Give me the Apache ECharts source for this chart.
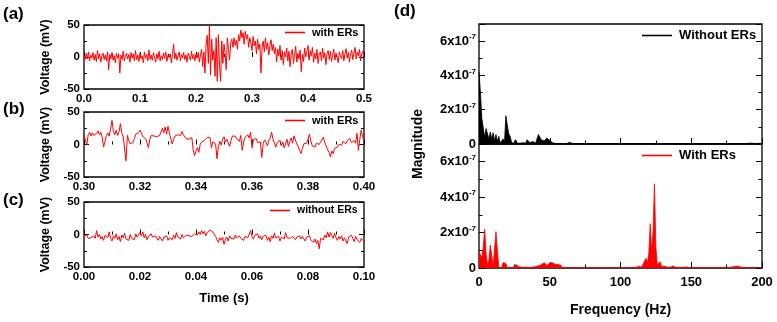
<!DOCTYPE html>
<html><head><meta charset="utf-8">
<script src="https://cdn.jsdelivr.net/npm/echarts@6/dist/echarts.min.js"></script>
<style>html,body{margin:0;padding:0;background:#fff}#c{width:777px;height:322px}</style>
</head><body><div id="c"></div>
<script>
// ---- Panel (a): 0–0.5 s, with ERs (mV), step 0.002 s
const aStart = 0, aStep = 0.002;
const aVolt = [
2,-4,6,-3,8,-6,3,-2,7,-5,
4,-7,10,-3,5,-8,2,6,-4,3,
-6,8,-20,4,-3,7,-5,2,-9,6,
-2,5,-25,3,-4,9,-6,1,6,-3,
4,-8,7,-2,5,-6,10,-4,3,-7,
6,-3,2,-9,8,-2,4,-6,11,-4,
3,-5,7,-1,-8,5,-3,9,-6,2,
-4,6,-2,8,-7,3,-1,5,-9,4,
20,-3,6,-5,2,8,-6,4,-2,7,
-4,3,-8,6,1,-5,9,-3,4,-6,
5,-2,7,-8,3,12,-15,8,-25,20,
34,-10,50,-28,28,-5,10,-30,30,-38,
35,-15,-38,25,-10,20,5,-20,30,12,
-5,22,28,15,30,18,26,12,35,25,
42,30,38,20,40,28,35,15,30,22,
10,32,18,25,5,28,12,20,-25,15,
25,8,30,12,22,3,18,27,10,20,
5,15,-8,12,2,18,-5,10,-12,8,
0,14,-6,9,-15,5,12,-10,3,17,
-8,6,-3,11,-23,4,-7,14,0,9,
18,-5,10,2,15,-8,6,-3,12,-10,
4,8,-6,14,-2,7,-12,5,10,-4,
9,-7,3,12,-5,6,0,-9,8,2,
-3,10,-6,5,13,-2,7,-8,4,11,
-4,6,15,-3,8,1,12,-6,5,9,
3];
// ---- Panel (b): 0.30–0.40 s, with ERs (mV), step 0.0005 s
const bStart = 0.30, bStep = 0.0005;
const bVolt = [
16,6,-1,15,19,13,18,14,12,17,
21,15,19,11,-4,5,14,18,13,24,
37,20,15,22,14,19,32,18,12,14,
-25,14,6,1,0,3,9,16,13,18,
22,18,12,15,9,3,-5,8,14,11,
13,10,12,11,14,12,25,18,27,16,
28,18,9,1,8,13,10,15,12,14,
20,15,16,9,7,8,6,11,-8,-17,
-10,-5,-12,0,4,7,6,9,11,8,
11,-5,4,6,1,-22,-3,5,-1,8,
12,4,8,11,-3,6,13,10,13,9,
7,5,14,-9,4,11,8,15,10,19,
-5,8,5,9,3,6,4,-20,2,7,
3,-2,6,10,19,8,2,-4,3,0,
6,-2,4,-5,1,8,-3,5,10,2,
13,7,1,-3,-9,-14,-6,1,4,2,
8,16,6,-2,0,-4,2,5,0,4,
6,11,3,-2,-8,-12,-19,-10,-14,-6,
-9,-4,0,2,-1,5,3,1,6,4,
9,3,1,6,2,17,-9,8,22,12,
6];
// ---- Panel (c): 0–0.10 s, without ERs (mV), step 0.0005 s
const cStart = 0, cStep = 0.0005;
const cVolt = [
-2,-4,-1,-6,-3,-5,-8,-2,-6,6,-4,0,-7,-3,-9,-1,2,-5,4,-6,
-10,-2,-6,1,-8,-3,-11,-1,-5,2,-7,-4,-9,0,-6,-3,-8,1,-4,-7,
3,-2,4,-5,0,-8,-3,-6,1,-4,-7,-2,-5,-9,-3,-6,-10,-4,-7,-2,
-9,-5,-3,-8,-1,-6,3,-4,-2,-7,0,-5,-3,-1,-4,-2,0,-3,-1,1,
2,-1,4,0,6,1,5,-2,3,2,7,9,4,6,-3,-8,-12,-5,-9,-4,
-15,-8,-4,-10,-2,-6,-3,-7,-1,-5,-8,-2,-6,-4,-9,-3,0,-5,-2,6,
-3,-7,-1,-4,1,-6,-2,-8,-3,-5,-1,-9,-4,-11,-2,-6,2,-5,-8,-3,
-10,-4,-1,-7,3,-5,-2,-6,-9,-3,-1,-8,-4,-6,-2,-7,-3,-5,-10,-4,
-6,-2,-8,-5,-12,-7,-14,-9,-22,-6,-3,-8,-1,-5,4,-4,3,-2,-6,2,
-5,-9,-3,-7,-2,-10,-5,-8,-14,-4,-7,-1,-6,-11,-3,-8,-5,-12,-6,-9,-11];
// ---- Panel (d): magnitude spectra, 0–200 Hz, step 1 Hz, values in units of 1e-7
const fStart = 0, fStep = 1;
const magWithout = [
4.2,3.0,1.5,1.4,0.4,0.9,1.0,0.3,0.7,0.3,
0.65,0.2,0.55,0.15,0.45,0.05,0.02,0.3,0.1,1.65,
1.1,0.6,0.45,0.1,0.2,0.02,0.25,0.05,0.03,0.04,
0.15,0.08,0.15,0.05,0.25,0.2,0.08,0.06,0.15,0.04,
0.05,0.1,0.55,0.45,0.25,0.2,0.18,0.12,0.35,0.25,
0.2,0.18,0.08,0.04,0.03,0.02,0.03,0.02,0.02,0.03,
0.02,0.02,0.03,0.05,0.1,0.08,0.03,0.05,0.02,0.02,
0.02,0.03,0.02,0.02,0.03,0.02,0.02,0.01,0.02,0.02,
0.01,0.02,0.02,0.01,0.02,0.01,0.02,0.01,0.01,0.02,
0.01,0.02,0.01,0.02,0.01,0.01,0.02,0.01,0.02,0.01,
0.02,0.01,0.01,0.02,0.01,0.02,0.01,0.01,0.02,0.01,
0.01,0.02,0.01,0.01,0.02,0.01,0.02,0.01,0.01,0.02,
0.01,0.02,0.01,0.02,0.01,0.01,0.02,0.01,0.02,0.01,
0.01,0.02,0.01,0.01,0.02,0.01,0.02,0.01,0.01,0.02,
0.01,0.01,0.02,0.01,0.02,0.01,0.01,0.02,0.01,0.01,
0.02,0.01,0.01,0.02,0.01,0.02,0.01,0.01,0.02,0.01,
0.01,0.02,0.01,0.02,0.01,0.01,0.02,0.01,0.02,0.01,
0.01,0.02,0.01,0.01,0.02,0.01,0.02,0.01,0.01,0.02,
0.01,0.02,0.01,0.01,0.02,0.01,0.02,0.03,0.02,0.03,
0.04,0.03,0.05,0.03,0.04,0.06,0.03,0.05,0.04,0.03,
0.02];
const magWith = [
0.9,1.0,0.6,1.2,2.2,0.8,0.2,0.45,1.3,0.7,
0.1,0.05,2.05,1.0,0.02,0.01,0.02,0.3,0.35,0.25,
0.02,0.02,0.03,0.02,0.02,0.03,0.2,0.18,0.08,0.05,
0.04,0.07,0.05,0.03,0.03,0.03,0.04,0.03,0.05,0.05,
0.08,0.1,0.12,0.15,0.18,0.22,0.3,0.35,0.15,0.2,
0.28,0.35,0.3,0.25,0.2,0.18,0.2,0.18,0.15,0.01,
0.02,0.01,0.02,0.01,0.02,0.01,0.01,0.02,0.01,0.02,
0.01,0.02,0.01,0.01,0.02,0.01,0.02,0.01,0.01,0.02,
0.01,0.02,0.01,0.02,0.01,0.01,0.02,0.01,0.02,0.01,
0.01,0.02,0.01,0.01,0.02,0.01,0.02,0.01,0.01,0.02,
0.01,0.02,0.01,0.02,0.01,0.02,0.02,0.03,0.02,0.03,
0.03,0.04,0.06,0.1,0.12,0.05,0.03,0.4,0.55,0.3,
0.8,2.5,1.0,2.0,4.75,1.2,0.2,0.1,0.35,0.1,
0.05,0.1,0.2,0.05,0.05,0.03,0.08,0.12,0.05,0.04,
0.05,0.04,0.05,0.03,0.04,0.05,0.03,0.05,0.03,0.02,
0.03,0.02,0.03,0.04,0.03,0.02,0.03,0.02,0.02,0.03,
0.02,0.02,0.03,0.02,0.02,0.03,0.02,0.02,0.02,0.02,
0.02,0.03,0.02,0.02,0.03,0.02,0.02,0.03,0.04,0.06,
0.08,0.1,0.12,0.1,0.08,0.05,0.04,0.03,0.03,0.02,
0.03,0.02,0.03,0.04,0.03,0.02,0.03,0.02,0.03,0.02,
0.02];
// tick labels
const voltTicks = [-50, 0, 50];
const magTicks = [0, 2, 4, 6];

const FF = 'Arial, "Liberation Sans", Helvetica, sans-serif';
const RED = '#ff0000';
const toPairs = (start, step, arr) => arr.map((v, i) => [+(start + i * step).toFixed(6), v]);

const chart = echarts.init(document.getElementById('c'), null, {renderer: 'canvas'});

const gridBox = (l, t, w, h) => ({left: l, top: t, width: w, height: h, show: true, borderColor: '#000', borderWidth: 1.3, backgroundColor: 'transparent', containLabel: false});
const grids = [
  gridBox(84, 25, 280, 64),
  gridBox(84, 112, 280, 65),
  gridBox(84, 202, 280, 65),
  gridBox(479, 24, 283, 120),
  gridBox(479, 144, 283, 124)
];

const lblStyle = {color: '#000', fontFamily: FF, fontWeight: 'bold', fontSize: 11.5};
function timeX(gi, min, max, interval, dec, extra) {
  return Object.assign({
    type: 'value', gridIndex: gi, min, max, interval,
    axisLine: {show: false},
    axisTick: {show: true, inside: true, length: 5, lineStyle: {color: '#000', width: 1}},
    minorTick: {show: true, splitNumber: 2, length: 3, lineStyle: {color: '#000', width: 1}},
    splitLine: {show: false},
    axisLabel: Object.assign({margin: 4, formatter: v => v.toFixed(dec)}, lblStyle)
  }, extra || {});
}
function voltY(gi, pos, labels) {
  return {
    type: 'value', gridIndex: gi, position: pos, min: -50, max: 50, interval: 50,
    axisLine: {show: false},
    axisTick: {show: true, inside: true, length: 5, lineStyle: {color: '#000', width: 1}},
    minorTick: {show: true, splitNumber: 2, length: 3, lineStyle: {color: '#000', width: 1}},
    splitLine: {show: false},
    axisLabel: Object.assign({show: labels, margin: 4, formatter: v => voltTicks.includes(v) ? String(v) : ''}, lblStyle),
    name: labels ? 'Voltage (mV)' : '', nameLocation: 'middle', nameGap: 32,
    nameTextStyle: {color: '#000', fontFamily: FF, fontWeight: 'bold', fontSize: 12.5}
  };
}
function magY(gi, pos, major) {
  return {
    type: 'value', gridIndex: gi, position: pos, min: 0, max: 7, interval: major ? 2 : 1,
    axisLine: {show: false},
    axisTick: {show: true, inside: true, length: major ? 6 : 3.5, lineStyle: {color: '#000', width: 1}},
    splitLine: {show: false},
    axisLabel: {
      show: major && pos === 'left', margin: 3,
      formatter: v => v === 0 ? '{m|0}' : (magTicks.includes(v) ? '{m|' + v + 'x10}{s|-7}' : ''),
      rich: {
        m: {fontFamily: FF, fontWeight: 'bold', fontSize: 13, color: '#000', lineHeight: 16},
        s: {fontFamily: FF, fontWeight: 'bold', fontSize: 8, color: '#000', verticalAlign: 'top', lineHeight: 16, padding: [0, 0, 8, 0]}
      }
    }
  };
}
const freqX = (gi, labels) => ({
  type: 'value', gridIndex: gi, min: 0, max: 200, interval: 50,
  axisLine: {show: false},
  axisTick: {show: true, inside: true, length: 6, lineStyle: {color: '#000', width: 1}},
  minorTick: {show: true, splitNumber: 2, length: 3.5, lineStyle: {color: '#000', width: 1}},
  splitLine: {show: false},
  axisLabel: {show: labels, margin: 8, color: '#000', fontFamily: FF, fontWeight: 'bold', fontSize: 13},
  name: labels ? 'Frequency (Hz)' : '', nameLocation: 'middle', nameGap: 35,
  nameTextStyle: {color: '#000', fontFamily: FF, fontWeight: 'bold', fontSize: 14}
});

const xAxes = [
  timeX(0, 0, 0.5, 0.1, 1),
  timeX(1, 0.30, 0.40, 0.02, 2),
  timeX(2, 0, 0.10, 0.02, 2, {name: 'Time (s)', nameLocation: 'middle', nameGap: 25,
    nameTextStyle: {color: '#000', fontFamily: FF, fontWeight: 'bold', fontSize: 13}}),
  freqX(3, false),
  freqX(4, true)
];
const yAxes = [
  voltY(0, 'left', true), voltY(0, 'right', false),
  voltY(1, 'left', true), voltY(1, 'right', false),
  voltY(2, 'left', true), voltY(2, 'right', false),
  magY(3, 'left', true), magY(3, 'left', false), magY(3, 'right', true), magY(3, 'right', false),
  magY(4, 'left', true), magY(4, 'left', false), magY(4, 'right', true), magY(4, 'right', false)
];

const timeSeries = (name, xi, yi, data) => ({
  type: 'line', name, xAxisIndex: xi, yAxisIndex: yi, data,
  showSymbol: false, symbol: 'none', animation: false,
  lineStyle: {color: RED, width: 1}, itemStyle: {color: RED}
});
const specSeries = (name, xi, yi, data, color) => ({
  type: 'line', name, xAxisIndex: xi, yAxisIndex: yi, data,
  showSymbol: false, symbol: 'none', animation: false,
  lineStyle: {color, width: 0.8}, itemStyle: {color},
  areaStyle: {color, opacity: 1}
});

const series = [
  timeSeries('with ERs', 0, 0, toPairs(aStart, aStep, aVolt)),
  timeSeries('with ERs ', 1, 2, toPairs(bStart, bStep, bVolt)),
  timeSeries('without ERs', 2, 4, toPairs(cStart, cStep, cVolt)),
  specSeries('Without ERs', 3, 6, toPairs(fStart, fStep, magWithout), '#000'),
  specSeries('With ERs', 4, 10, toPairs(fStart, fStep, magWith), RED)
];

const legendOf = (name, left, top, w, fs) => ({
  data: [{name, icon: 'rect'}], left, top, itemWidth: w, itemHeight: 1.6, itemGap: 0,
  selectedMode: false, padding: 0,
  textStyle: {color: '#000', fontFamily: FF, fontWeight: 'bold', fontSize: fs, padding: [0, 0, 0, 2]}
});

const option = {
  animation: false,
  grid: grids,
  xAxis: xAxes,
  yAxis: yAxes,
  series,
  legend: [
    legendOf('with ERs', 285, 27, 20, 11),
    legendOf('with ERs ', 285, 115, 20, 11),
    legendOf('without ERs', 270, 205, 20, 10.5),
    legendOf('Without ERs', 642, 29, 30, 13),
    legendOf('With ERs', 642, 149, 30, 13)
  ],
  graphic: [
    {type: 'text', left: 3, top: 6, style: {text: '(a)', font: 'bold 17px ' + FF, fill: '#000'}},
    {type: 'text', left: 3, top: 101, style: {text: '(b)', font: 'bold 17px ' + FF, fill: '#000'}},
    {type: 'text', left: 3, top: 192, style: {text: '(c)', font: 'bold 17px ' + FF, fill: '#000'}},
    {type: 'text', left: 394, top: 3, style: {text: '(d)', font: 'bold 17px ' + FF, fill: '#000'}},
    {type: 'text', x: 418, y: 144, rotation: Math.PI / 2,
      style: {text: 'Magnitude', font: 'bold 14px ' + FF, fill: '#000', textAlign: 'center', textVerticalAlign: 'middle'}}
  ]
};
chart.setOption(option);
</script>
</body></html>
